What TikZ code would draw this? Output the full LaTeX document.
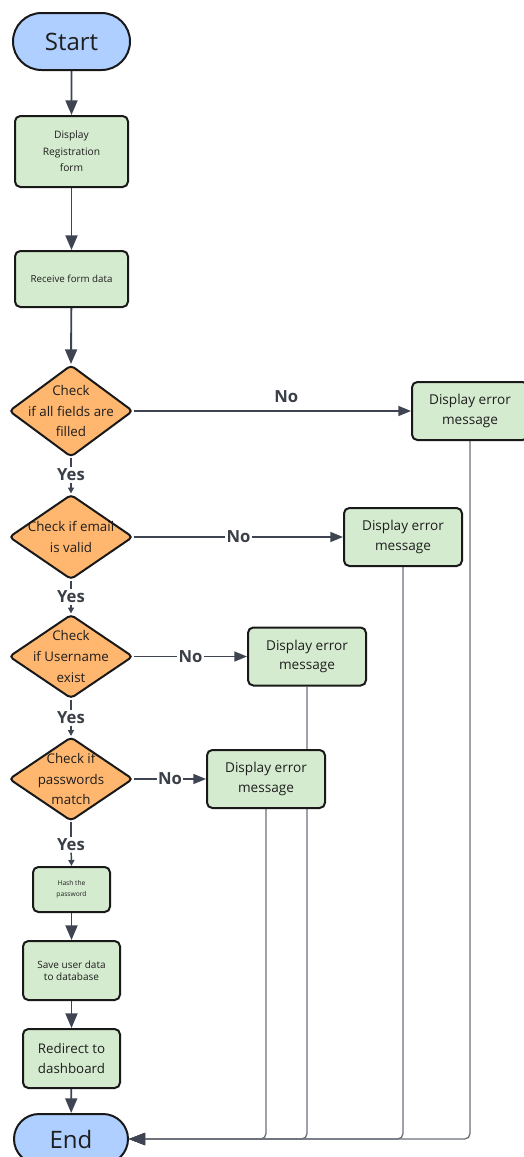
\documentclass[tikz,border=0pt]{standalone}
\usepackage{fontspec}
\setmainfont{Open Sans}
\usetikzlibrary{shapes.geometric,shapes.misc,arrows.meta,backgrounds}
\definecolor{termfill}{HTML}{AECFFF}
\definecolor{procfill}{HTML}{D5EBCF}
\definecolor{decfill}{HTML}{FFB66E}
\definecolor{linecol}{HTML}{3E4451}
\definecolor{retcol}{HTML}{6C717A}
\definecolor{labcol}{HTML}{3A3F48}
\definecolor{textcol}{HTML}{1E1E1E}
\tikzset{
  base/.style={draw=black!90, line width=1.5pt, align=center, text=textcol, inner sep=0pt},
  terminal/.style={base, rounded rectangle, fill=termfill},
  process/.style={base, rectangle, rounded corners=4pt, fill=procfill},
  decision/.style={base, diamond, rounded corners=3pt, fill=decfill,
    inner xsep=-45pt, inner ysep=-25pt, minimum width=93pt,
    font=\fontsize{10}{15.5}\selectfont},
  errbox/.style={process, minimum width=88.5pt, minimum height=43.5pt,
    font=\fontsize{10.2}{14.6}\selectfont},
  flow/.style={draw=linecol, line width=1.4pt, -{Triangle[length=11pt,width=9pt]}},
  noflow/.style={draw=linecol, line width=1.1pt, -{Triangle[length=9.5pt,width=7.5pt]}},
  yesflow/.style={draw=linecol, line width=1.1pt, -{Triangle[length=4.5pt,width=4.5pt]}},
  plain/.style={draw=linecol, line width=1.1pt},
  ret/.style={draw=retcol, line width=1pt, rounded corners=4pt,
    -{Triangle[length=12pt,width=9pt,color=linecol]}},
  answer/.style={font=\bfseries\fontsize{12.5}{14}\selectfont, text=labcol, fill=white, inner sep=1pt}
}
\begin{document}
\begin{tikzpicture}[x=0.75pt,y=-0.75pt]
\useasboundingbox (0,0) rectangle (524,1157);

% main column
\node[terminal, minimum width=87.75pt, minimum height=42.75pt,
      font=\fontsize{18}{20}\selectfont] (start) at (71.5,41.5) {Start};
\node[process, minimum width=84.75pt, minimum height=53.25pt,
      font=\fontsize{7.7}{12.4}\selectfont] (showform) at (71.5,151.5) {Display\\Registration\\form};
\node[process, minimum width=84.75pt, minimum height=42pt,
      font=\fontsize{7.3}{8}\selectfont] (receive) at (71.5,279) {Receive form data};

\node[decision, minimum height=69pt] (filled) at (71,411) {Check\\if all fields are\\filled};
\node[decision, minimum height=63.75pt] (email) at (71,537) {Check if email\\is valid};
\node[decision, minimum height=63pt] (user) at (71,656.5) {Check\\if Username\\exist};
\node[decision, minimum height=63pt] (pass) at (71,779) {Check if\\passwords\\match};

\node[answer] (yes1) at (71,475) {Yes};
\node[answer] (yes2) at (71,597) {Yes};
\node[answer] (yes3) at (71,718) {Yes};
\node[answer] (yes4) at (71,845) {Yes};

\node[process, minimum width=57.75pt, minimum height=33.75pt,
      font=\fontsize{5}{8}\selectfont] (hash) at (71.5,889.5) {Hash the\\password};
\node[process, minimum width=72.75pt, minimum height=44.25pt,
      font=\fontsize{7.5}{9.2}\selectfont] (save) at (71.5,970.5) {Save user data\\to database};
\node[process, minimum width=72.75pt, minimum height=44.25pt,
      font=\fontsize{10}{14.3}\selectfont] (redirect) at (71.5,1058.5) {Redirect to\\dashboard};
\node[terminal, minimum width=85.5pt, minimum height=37.5pt,
      font=\fontsize{18}{20}\selectfont] (finish) at (71,1139) {End};

% error messages
\node[errbox, minimum width=87pt] (err1) at (470,411) {Display error\\message};
\node[errbox] (err2) at (403,537) {Display error\\message};
\node[errbox] (err3) at (307,656.5) {Display error\\message};
\node[errbox] (err4) at (266,779) {Display error\\message};

\begin{scope}[on background layer]
  \fill[white] (0,0) rectangle (524,1157);
  % straight flow
  \draw[flow] (start) -- (showform);
  \draw[flow] (showform) -- (receive);
  \draw[flow] (receive) -- (filled.north);
  \draw[plain] (filled.south) -- (yes1);
  \draw[yesflow] (yes1) -- (email.north);
  \draw[plain] (email.south) -- (yes2);
  \draw[yesflow] (yes2) -- (user.north);
  \draw[plain] (user.south) -- (yes3);
  \draw[yesflow] (yes3) -- (pass.north);
  \draw[plain] (pass.south) -- (yes4);
  \draw[yesflow] (yes4) -- (hash.north);
  \draw[flow] (hash) -- (save);
  \draw[flow] (save) -- (redirect);
  \draw[flow] (redirect) -- (finish);

  % failed checks
  \draw[noflow] (filled.east) -- node[pos=0.55, above=5pt, answer, fill=none] (no1) {No} (err1.west);
  \draw[noflow] (email.east) -- node[answer] (no2) {No} (err2.west);
  \draw[noflow] (user.east) -- node[answer] (no3) {No} (err3.west);
  \draw[noflow] (pass.east) -- node[answer] (no4) {No} (err4.west);

  % every error returns to the end
  \draw[ret] (err1.south) |- (finish.east);
  \draw[ret] (err2.south) |- (finish.east);
  \draw[ret] (err3.south) |- (finish.east);
  \draw[ret] (err4.south) |- (finish.east);
\end{scope}
\end{tikzpicture}
\end{document}
